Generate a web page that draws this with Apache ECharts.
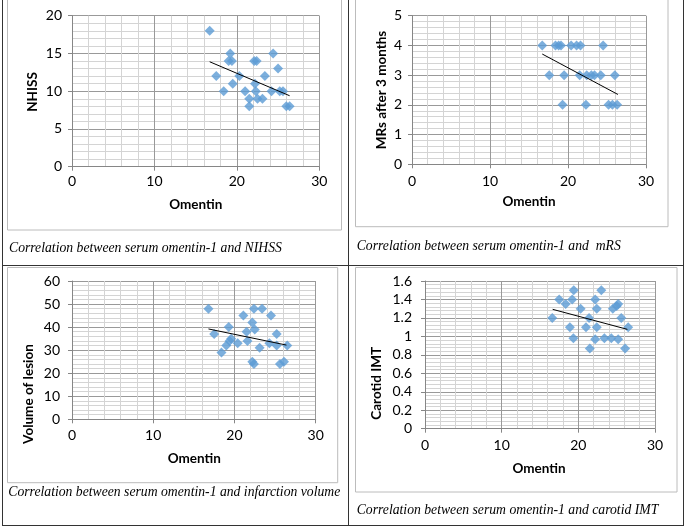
<!DOCTYPE html>
<html><head><meta charset="utf-8">
<script src="https://cdn.jsdelivr.net/npm/echarts@6/dist/echarts.min.js"></script>
<style>html,body{margin:0;padding:0;background:#fff}#c{width:685px;height:527px}</style>
</head><body><div id="c"></div>
<script>
// Panel 1: Omentin vs NHISS
const omentinA = [16.7, 19.2, 19.0, 19.4, 17.5, 18.4, 19.5, 20.3, 21.0, 21.5, 21.5, 22.1, 22.4, 22.2, 22.3, 22.5, 23.1, 23.4, 24.4, 24.2, 25.0, 25.2, 25.6, 26.0, 26.4];
const nihss    = [18,   15,   14,   14,   12,   10,   11,   12,   10,   9,    8,    14,   14,   11,   10,   9,    9,    12,   15,   10,   13,   10,   10,   8,    8];
const trendNihss = [[16.7, 13.9], [26.4, 9.4]];

// Panel 2: Omentin vs mRS after 3 months
const omentinB = [16.7, 18.4, 18.8, 19.1, 20.4, 21.1, 21.6, 24.5, 17.6, 19.5, 21.5, 22.4, 23.0, 23.4, 24.2, 26.0, 19.3, 22.3, 25.2, 25.7, 26.3];
const mrs      = [4,    4,    4,    4,    4,    4,    4,    4,    3,    3,    3,    3,    3,    3,    3,    3,    2,    2,    2,    2,    2];
const trendMrs = [[16.7, 3.71], [26.4, 2.35]];

// Panel 3: Omentin vs volume of lesion
const omentinC = [16.8, 17.5, 18.4, 19.0, 19.3, 19.4, 19.6, 20.4, 21.1, 21.5, 21.6, 22.2, 22.4, 22.5, 22.2, 22.4, 23.4, 23.1, 24.3, 24.5, 25.2, 25.2, 25.6, 26.1, 26.5];
const volume   = [48,   37,   29,   32,   40,   34,   35,   33,   45,   38,   34,   42,   48,   39,   25,   24,   48,   31,   33,   45,   37,   32,   24,   25,   32];
const trendVolume = [[16.8, 39.2], [26.4, 32.2]];

// Panel 4: Omentin vs carotid IMT
const omentinD = [16.6, 17.5, 18.35, 18.9, 19.2, 19.4, 19.35, 20.3, 21.0, 21.4, 21.5, 22.2, 22.4, 22.4, 22.2, 23.0, 23.4, 24.3, 24.5, 25.0, 25.2, 25.2, 25.6, 26.1, 26.5];
const imt      = [1.20, 1.40, 1.35,  1.10, 1.40, 1.50, 0.98,  1.30, 1.10, 1.20, 0.87, 1.40, 1.30, 1.10, 0.97, 1.50, 0.98, 0.98, 1.30, 1.33, 1.35, 0.97, 1.20, 0.87, 1.10];
const trendImt = [[16.65, 1.293], [26.4, 1.076]];

const xTicksMax = 30, xInterval = 10;
const yMax = [20, 5, 60, 1.6];
const yInterval = [5, 1, 10, 0.2];
const yTitles = ['NHISS', 'MRs after 3 months', 'Volume of lesion', 'Carotid IMT'];
const xTitle = 'Omentin';
const captions = [
  'Correlation between serum omentin-1 and NIHSS',
  'Correlation between serum omentin-1 and  mRS',
  'Correlation between serum omentin-1 and infarction volume',
  'Correlation between serum omentin-1 and carotid IMT'
];

const pairs = (xs, ys) => xs.map((x, i) => [x, ys[i]]);
const scatterData = [pairs(omentinA, nihss), pairs(omentinB, mrs), pairs(omentinC, volume), pairs(omentinD, imt)];
const trends = [trendNihss, trendMrs, trendVolume, trendImt];

const grids = [
  {left: 72, top: 15.7, width: 247.3, height: 151},
  {left: 412, top: 15.7, width: 234, height: 148.6},
  {left: 72, top: 281, width: 243.7, height: 138.3},
  {left: 425, top: 281, width: 230, height: 147.7}
];
const xMargins = [8, 10, 9, 10];
const yMargins = [10, 10, 12, 13];

const labelFont = {fontFamily: 'Lato', fontSize: 14, color: '#000'};
const majorC = '#999999', minorC = '#d4d4d4', axisC = '#868686';

const xAxis = grids.map((g, i) => ({
  gridIndex: i, type: 'value', min: 0, max: xTicksMax, interval: xInterval,
  axisLine: {show: true, onZero: false, lineStyle: {color: axisC}},
  axisTick: {show: true, length: 4, lineStyle: {color: axisC}},
  axisLabel: Object.assign({margin: xMargins[i]}, labelFont),
  splitLine: {show: true, lineStyle: {color: majorC, width: 1}},
  minorTick: {show: false, splitNumber: 5},
  minorSplitLine: {show: true, lineStyle: {color: minorC, width: 1}}
}));
const yAxis = grids.map((g, i) => ({
  gridIndex: i, type: 'value', min: 0, max: yMax[i], interval: yInterval[i],
  axisLine: {show: true, onZero: false, lineStyle: {color: axisC}},
  axisTick: {show: true, length: 4, lineStyle: {color: axisC}},
  axisLabel: Object.assign({margin: yMargins[i]}, labelFont),
  splitLine: {show: true, lineStyle: {color: majorC, width: 1}},
  minorTick: {show: false, splitNumber: 5},
  minorSplitLine: {show: true, lineStyle: {color: minorC, width: 1}}
}));

const series = [];
scatterData.forEach((d, i) => {
  series.push({type: 'scatter', xAxisIndex: i, yAxisIndex: i, data: d, symbol: 'diamond', symbolSize: 10,
    itemStyle: {color: '#5b9bd5'}, z: 3, silent: true});
  series.push({type: 'line', xAxisIndex: i, yAxisIndex: i, data: trends[i], symbol: 'none',
    lineStyle: {color: '#000', width: 1}, z: 4, silent: true, animation: false});
});

const gray = '#bcbcbc', dark = '#333';
const rect = (x, y, w, h, c) => ({type: 'rect', shape: {x, y, width: w, height: h},
  style: {fill: 'none', stroke: c, lineWidth: 1}, silent: true});
const line = (x1, y1, x2, y2, c) => ({type: 'line', shape: {x1, y1, x2, y2},
  style: {stroke: c, lineWidth: 1}, silent: true});
const text = (x, y, t, font, extra) => Object.assign({type: 'text', x, y,
  style: Object.assign({text: t, textAlign: 'center', textVerticalAlign: 'middle', fill: '#000'}, font), silent: true}, extra || {});

const boldFont = {font: 'bold 13.5px Lato'};
const capFont = {font: 'italic 13.7px "Liberation Serif"', textAlign: 'left'};

const graphic = [
  // chart frames
  rect(7.5, -1, 334, 231, gray),
  rect(355.5, -1, 312.5, 227.7, gray),
  rect(7.5, 267.5, 330.2, 215.2, gray),
  rect(355.5, 267.5, 321.5, 224.5, gray),
  // table lines
  line(2.5, 0, 2.5, 526, dark),
  line(348.5, 0, 348.5, 526, dark),
  line(683.5, 0, 683.5, 526, dark),
  line(2, 265.5, 684, 265.5, dark),
  line(2, 525.5, 684, 525.5, dark),
  // x titles
  text(195.7, 205, xTitle, boldFont),
  text(529, 201.7, xTitle, boldFont),
  text(194.3, 458.3, xTitle, boldFont),
  text(539, 468.3, xTitle, boldFont),
  // y titles
  text(33, 92, yTitles[0], boldFont, {rotation: Math.PI / 2}),
  text(381.7, 90, yTitles[1], boldFont, {rotation: Math.PI / 2}),
  text(28.3, 394, yTitles[2], boldFont, {rotation: Math.PI / 2}),
  text(376.7, 383.3, yTitles[3], boldFont, {rotation: Math.PI / 2}),
  // captions
  text(9, 248, captions[0], capFont),
  text(356.7, 246.7, captions[1], capFont),
  text(8.3, 492.3, captions[2], capFont),
  text(356.7, 510, captions[3], capFont)
];

const chart = echarts.init(document.getElementById('c'));
chart.setOption({
  animation: false,
  backgroundColor: '#fff',
  grid: grids,
  xAxis, yAxis, series, graphic
});
</script></body></html>
